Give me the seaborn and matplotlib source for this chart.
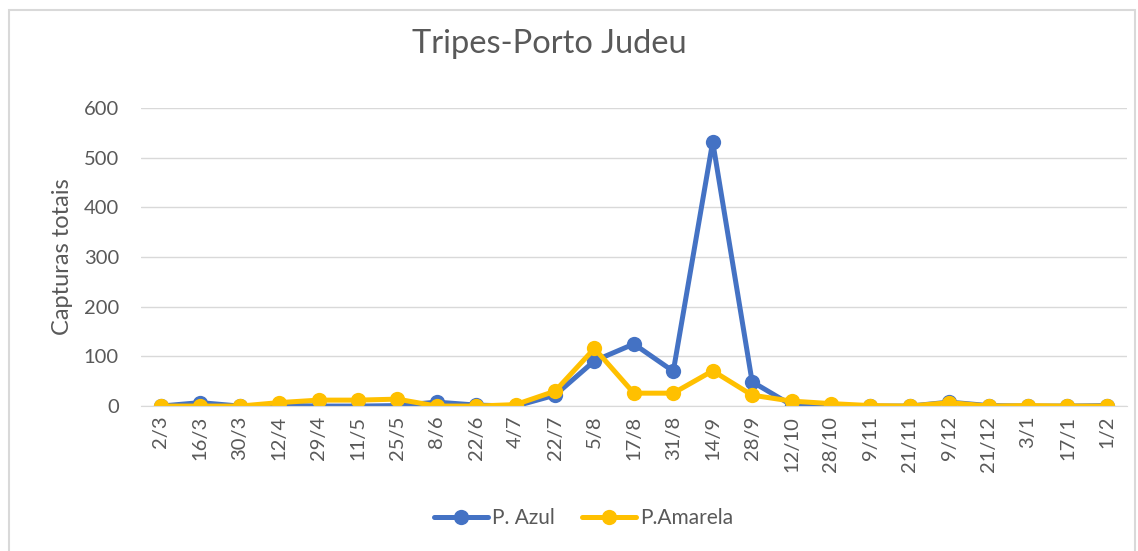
import matplotlib.pyplot as plt
import numpy as np
import seaborn as sns
import pandas as pd
from matplotlib.patches import Rectangle

datas = ['2/3', '16/3', '30/3', '12/4', '29/4', '11/5', '25/5', '8/6', '22/6', '4/7',
         '22/7', '5/8', '17/8', '31/8', '14/9', '28/9', '12/10', '28/10', '9/11', '21/11',
         '9/12', '21/12', '3/1', '17/1', '1/2']
azul = [0, 7, 0, 2, 0, 0, 1, 8, 2, 0,
        22, 91, 125, 70, 532, 49, 2, 0, 0, 0,
        8, 1, 0, 0, 1]
amarela = [0, 0, 0, 7, 12, 12, 14, 0, 0, 3,
           30, 116, 26, 26, 71, 22, 10, 5, 1, 0,
           7, 0, 1, 0, 0]
labels = ['P. Azul', 'P.Amarela']
cores = ['#4472C4', '#FFC000']

df = pd.DataFrame({
    'data': datas * 2,
    'x': list(range(len(datas))) * 2,
    'valor': azul + amarela,
    'serie': [labels[0]] * len(datas) + [labels[1]] * len(datas),
})

sns.set_style('white')
plt.rcParams['font.family'] = ['Lato', 'DejaVu Sans']
cinza = '#595959'

fig = plt.figure(figsize=(11.38, 5.51), dpi=100)
ax = fig.add_axes([0.124, 0.263, 0.866, 0.541])

sns.lineplot(data=df, x='x', y='valor', hue='serie', palette=cores, marker='o',
             markersize=11, markeredgewidth=0, linewidth=3.6, ax=ax, legend=True)

ax.set_xlim(-0.5, len(datas) - 0.5)
ax.set_ylim(0, 600)
ax.set_yticks([0, 100, 200, 300, 400, 500, 600])
ax.set_xticks(range(len(datas)))
ax.set_xticklabels(datas, rotation=90)
ax.tick_params(axis='both', labelsize=14.5, colors=cinza, length=0)
ax.tick_params(axis='y', pad=16)
ax.tick_params(axis='x', pad=7)
ax.grid(axis='y', color='#d9d9d9', linewidth=1)
ax.set_axisbelow(True)
for s in ['top', 'right', 'left']:
    ax.spines[s].set_visible(False)
ax.spines['bottom'].set_color('#d9d9d9')

ax.set_xlabel('')
ax.set_ylabel('Capturas totais', fontsize=17, color=cinza, labelpad=8)
fig.text(0.483, 0.92, 'Tripes-Porto Judeu', ha='center', va='center', fontsize=23.5, color=cinza)

leg = ax.legend(loc='center', bbox_to_anchor=(0.513, 0.06), bbox_transform=fig.transFigure,
                ncol=2, frameon=False, fontsize=15, handlelength=2.6, columnspacing=1.3,
                handletextpad=0.2)
for t in leg.get_texts():
    t.set_color(cinza)

fig.patches.append(Rectangle((0.008, -0.01), 0.989, 0.992, transform=fig.transFigure,
                             fill=False, edgecolor='#d9d9d9', linewidth=1.5))

plt.savefig('out.png', dpi=100)
